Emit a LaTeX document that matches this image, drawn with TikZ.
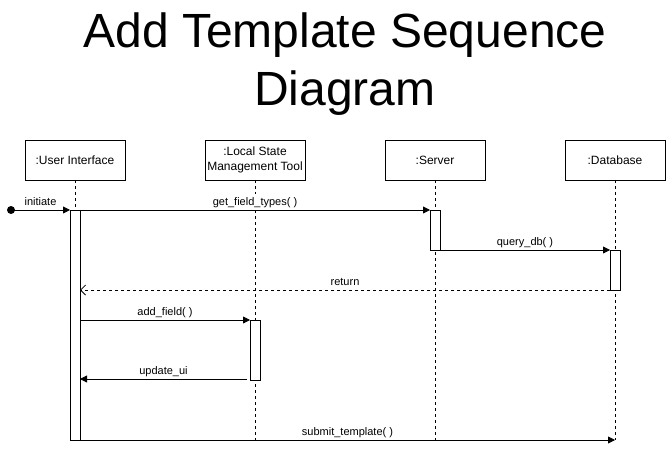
\documentclass[tikz,border=0pt]{standalone}
\usepackage{fontspec}
\setmainfont{Liberation Sans}
\usetikzlibrary{arrows.meta,calc}
\begin{document}
\begin{tikzpicture}[x=1pt,y=-1pt,
  every node/.style={inner sep=0pt,outer sep=0pt},
  actor/.style={draw,line width=0.8pt,minimum width=100pt,minimum height=40pt,align=center,font=\fontsize{12}{15}\selectfont},
  life/.style={draw,line width=0.8pt,dash pattern=on 3pt off 3pt},
  act/.style={draw,fill=white,line width=0.8pt,minimum width=10pt},
  msg/.style={line width=0.8pt,-{Triangle[length=7pt,width=7pt]}},
  ret/.style={line width=0.8pt,dash pattern=on 3pt off 3pt,-{Straight Barb[length=5pt,width=10pt]}},
  lbl/.style={font=\fontsize{11}{13}\selectfont,anchor=base,yshift=5pt,fill=white,inner xsep=1pt,inner ysep=3pt}]
\useasboundingbox (0,0) rectangle (666,449);
% title
\node[font=\fontsize{48}{58.5}\selectfont,align=center,anchor=base] (title) at (345,106) {Add Template Sequence\\Diagram};
% actors
\node[actor] (ui) at (75,160) {:User Interface};
\node[actor] (lsm) at (255,160) {:Local State\\Management Tool};
\node[actor] (srv) at (435,160) {:Server};
\node[actor] (db) at (615,160) {:Database};
% lifelines
\coordinate (uiend) at (75,440);
\draw[life] (ui.south) -- (ui.south |- uiend);
\draw[life] (lsm.south) -- (lsm.south |- uiend);
\draw[life] (srv.south) -- (srv.south |- uiend);
\draw[life] (db.south) -- (db.south |- uiend);
% activations
\node[act,minimum height=230pt] (ua) at (75,325) {};
\node[act,minimum height=40pt] (sa) at (435,230) {};
\node[act,minimum height=40pt] (da) at (615,270) {};
\node[act,minimum height=60pt] (la) at (255,350) {};
% initial
\node[circle,fill=black,minimum size=8pt] (start) at (11,210) {};
\draw[msg] (start.center) -- node[lbl]{initiate} (ua.north west);
\draw[msg] (ua.north east) -- node[lbl]{get\_field\_types( )} (sa.north west);
\draw[msg] (sa.south east) -- node[lbl]{query\_db( )} (da.north west);
\draw[ret] (da.south west) -- node[lbl]{return} (ua.east |- da.south);
\draw[msg] (ua.east |- la.north) -- node[lbl]{add\_field( )} (la.north west);
\coordinate (upd) at ($(la.south west)+(-3,-1)$);
\draw[msg] (upd) -- node[lbl]{update\_ui} (ua.east |- upd);
\draw[msg] (ua.south east) -- node[lbl]{submit\_template( )} (db.south |- ua.south);
\end{tikzpicture}
\end{document}
